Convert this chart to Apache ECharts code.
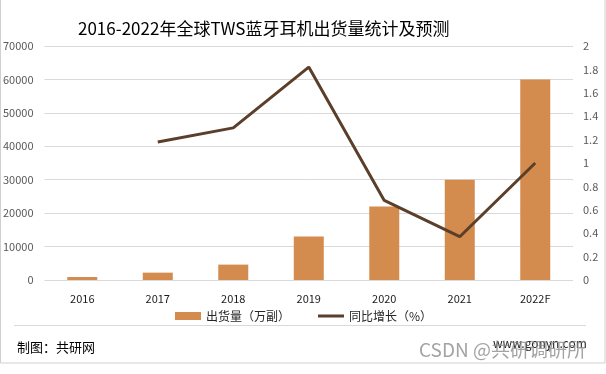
<!DOCTYPE html>
<html><head><meta charset="utf-8">
<script src="https://cdn.jsdelivr.net/npm/echarts@6/dist/echarts.min.js"></script>
<style>html,body{margin:0;padding:0;background:#fff}#c{width:606px;height:374px}</style>
</head><body><div id="c"></div>
<script>
const categories = ['2016','2017','2018','2019','2020','2021','2022F'];
const shipments = [900, 2200, 4600, 13000, 22000, 30000, 60000];
const growth = [null, 1.18, 1.30, 1.82, 0.68, 0.37, 1.0];
const leftTicks = {min:0, max:70000, interval:10000};
const rightTicks = {min:0, max:2, interval:0.2};
const FONT = '"Noto Sans CJK SC","Microsoft YaHei",sans-serif';
const chart = echarts.init(document.getElementById('c'), null, {renderer:'canvas'});
chart.setOption({
  backgroundColor:'#fff',
  animation:false,
  title:{text:'2016-2022年全球TWS蓝牙耳机出货量统计及预测', left:78, top:20, padding:0,
    textStyle:{fontFamily:FONT, fontSize:17, fontWeight:'normal', color:'#000'}},
  grid:{left:44, right:33, top:46, bottom:94},
  legend:{top:310, left:175, padding:0, itemGap:28, itemWidth:26, itemHeight:8,
    textStyle:{fontFamily:FONT, fontSize:12, color:'#262626'},
    data:[{name:'出货量（万副）', icon:'rect'},{name:'同比增长（%）', icon:'path://M0,0h26v3h-26z'}]},
  xAxis:{type:'category', data:categories,
    axisLine:{show:false}, axisTick:{show:false},
    axisLabel:{margin:13, fontFamily:FONT, fontSize:11, color:'#1a1a1a'}},
  yAxis:[
    {type:'value', min:leftTicks.min, max:leftTicks.max, interval:leftTicks.interval,
     axisLabel:{margin:11, fontFamily:FONT, fontSize:11, color:'#595959', formatter:v=>String(v)},
     splitLine:{lineStyle:{color:'#d9d9d9', width:1}}, axisLine:{show:false}, axisTick:{show:false}},
    {type:'value', min:rightTicks.min, max:rightTicks.max, interval:rightTicks.interval,
     axisLabel:{margin:10, fontFamily:FONT, fontSize:11, color:'#595959', formatter:v=>String(Math.round(v*10)/10)},
     splitLine:{show:false}, axisLine:{show:false}, axisTick:{show:false}}
  ],
  series:[
    {name:'出货量（万副）', type:'bar', data:shipments, barWidth:30, itemStyle:{color:'#D38B4E'}},
    {name:'同比增长（%）', type:'line', yAxisIndex:1, data:growth, symbol:'none',
     lineStyle:{color:'#5B3F2B', width:3}, itemStyle:{color:'#5B3F2B'}}
  ],
  graphic:[
    {type:'rect', shape:{x:0.5, y:-2, width:604.5, height:365}, style:{fill:'none', stroke:'#d0d0d0', lineWidth:1}, silent:true},
    {type:'line', shape:{x1:14, y1:325.5, x2:586, y2:325.5}, style:{stroke:'#d9d9d9', lineWidth:1}},
    {type:'text', left:17, top:341, style:{text:'制图：共研网', font:'13px '+FONT, fill:'#000'}},
    {type:'text', left:493, top:337, style:{text:'www.gonyn.com', font:'12px '+FONT, fill:'#222'}},
    {type:'text', left:419, top:340, style:{text:'CSDN @共研调研所', font:'19px '+FONT, fill:'rgba(140,140,140,0.8)'}}
  ]
});
</script></body></html>
